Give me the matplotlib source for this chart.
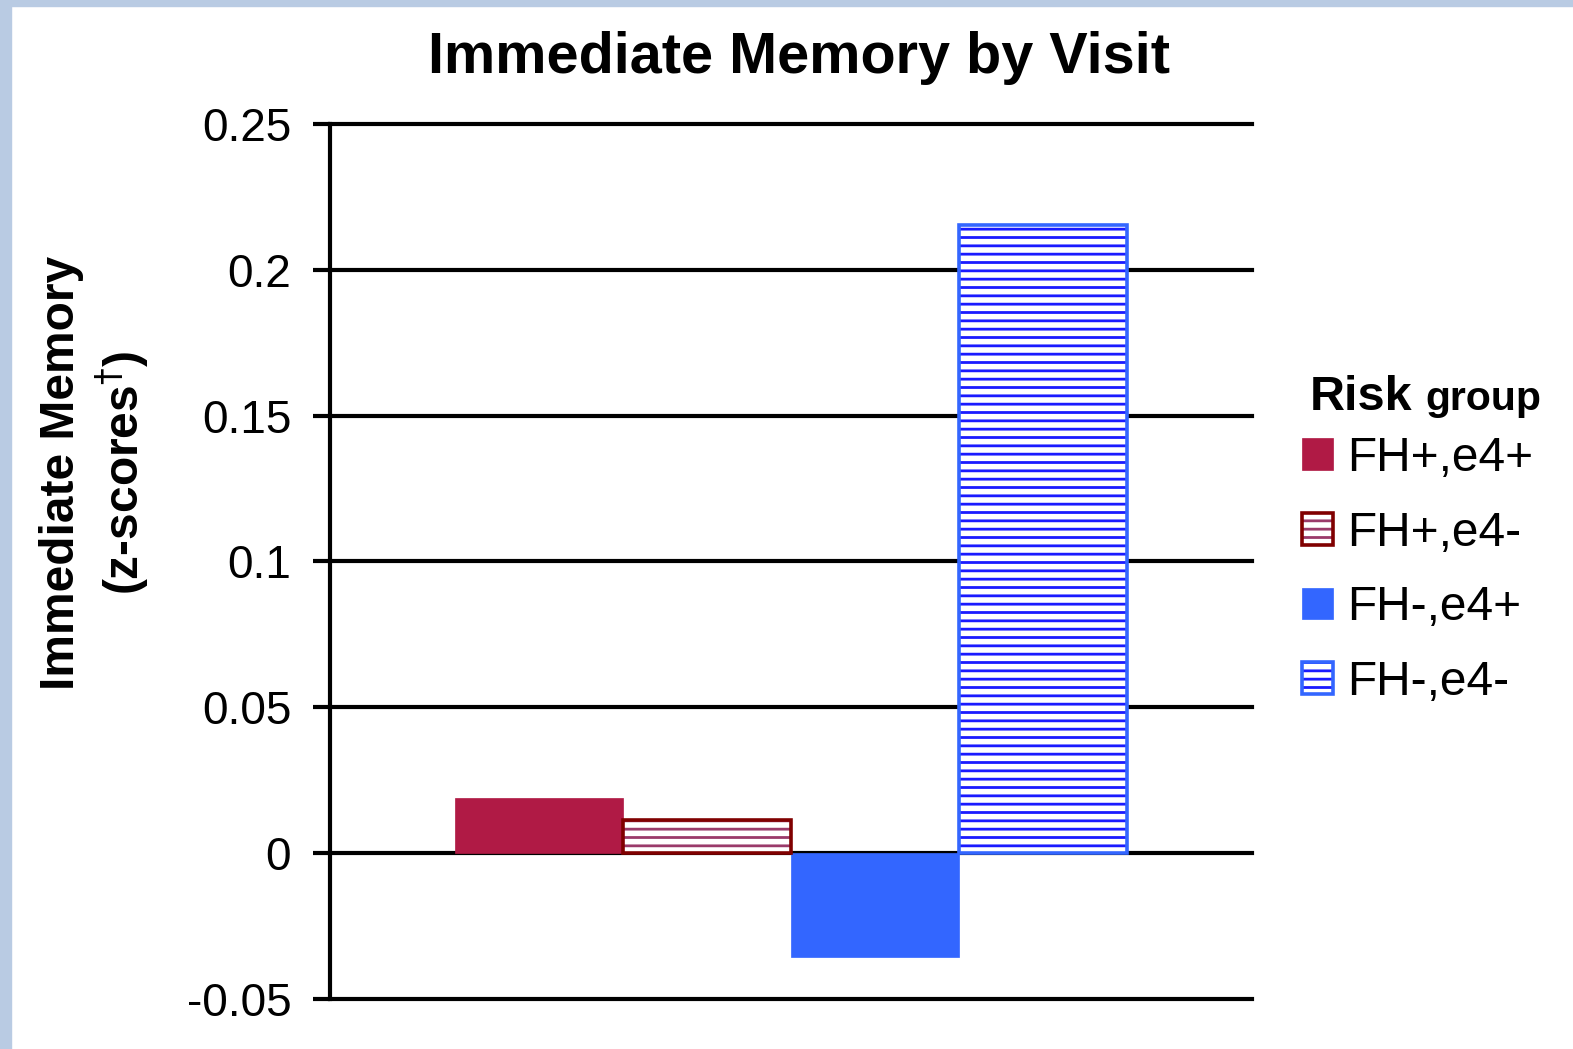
import matplotlib.pyplot as plt
from matplotlib.patches import Patch, Rectangle
from matplotlib.legend_handler import HandlerTuple

plt.rcParams['font.family'] = ['Liberation Sans', 'DejaVu Sans']
plt.rcParams['hatch.linewidth'] = 2.0

groups = ['FH+,e4+', 'FH+,e4-', 'FH-,e4+', 'FH-,e4-']
scores = [0.019, 0.0115, -0.0355, 0.2155]
faces = ['#b01a45', 'white', '#3366ff', 'white']
edges = ['#b01a45', '#800000', '#3366ff', '#3366ff']
hatch_cols = [None, '#9a3a6a', None, '#1a1aff']
yticks = [-0.05, 0, 0.05, 0.1, 0.15, 0.2, 0.25]

fig = plt.figure(figsize=(15.73, 10.49), dpi=100)
ax = fig.add_axes([0.2098, 0.0477, 0.5861, 0.8341])

width = 0.182
offsets = [(i - 1.5) * width for i in range(len(groups))]
handles = []
for off, val, fc, ec, hc in zip(offsets, scores, faces, edges, hatch_cols):
    if hc is None:
        ax.bar(off, val, width, color=fc, edgecolor=fc, linewidth=0.5, zorder=3)
        handles.append(Patch(facecolor=fc, edgecolor=fc, linewidth=0.5))
    else:
        # hatch lines in their own colour, then the outline on top
        ax.bar(off, val, width, color='white', edgecolor=hc, hatch='--',
               linewidth=0, zorder=3)
        ax.bar(off, val, width, color='none', edgecolor=ec, linewidth=2.6, zorder=4)
        handles.append((Patch(facecolor='white', edgecolor=hc, hatch='--', linewidth=0),
                        Patch(facecolor='none', edgecolor=ec, linewidth=2.6)))

ax.set_xlim(-0.5, 0.5)
ax.set_ylim(-0.05, 0.25)
ax.set_yticks(yticks)
ax.set_yticklabels(['-0.05', '0', '0.05', '0.1', '0.15', '0.2', '0.25'])
ax.set_xticks([])
ax.tick_params(axis='y', length=12, width=3, labelsize=33, pad=16, color='black')
ax.yaxis.grid(True, color='black', linewidth=3, zorder=1)
for gl in ax.get_ygridlines():
    gl.set_clip_on(False)
ax.set_axisbelow(True)
for side in ['top', 'right', 'bottom']:
    ax.spines[side].set_visible(False)
ax.spines['left'].set_linewidth(3)
ax.spines['left'].set_zorder(5)

fig.text(0.508, 0.945, 'Immediate Memory by Visit', ha='center', va='center',
         fontsize=41.5, fontweight='bold')
fig.text(0.0605, 0.549, 'Immediate Memory\n(z-scores$^{\\dagger}$)', rotation=90,
         ha='center', va='center', fontsize=34.5, fontweight='bold',
         multialignment='center', linespacing=1.22)

fig.text(1310 / 1573, 1 - 410 / 1049, 'Risk', fontsize=35, fontweight='bold',
         va='baseline', ha='left')
fig.text(1425 / 1573, 1 - 410 / 1049, 'group', fontsize=29.5, fontweight='bold',
         va='baseline', ha='left')

fig.legend(handles, groups, loc='upper left',
           bbox_to_anchor=(1302 / 1573, 1 - 436 / 1049),
           frameon=False, fontsize=34.5, handlelength=0.64, handleheight=0.64,
           handletextpad=0.3, labelspacing=0.62, borderpad=0, borderaxespad=0,
           handler_map={tuple: HandlerTuple(ndivide=1, pad=0)})

# light blue page edge along the top and left
fig.patches.append(Rectangle((0, 0), 11 / 1573, 1, transform=fig.transFigure,
                             color='#b9cbe3', zorder=0))
fig.patches.append(Rectangle((0, 1 - 6 / 1049), 1, 6 / 1049, transform=fig.transFigure,
                             color='#b9cbe3', zorder=0))

fig.savefig('out.png', dpi=100)
